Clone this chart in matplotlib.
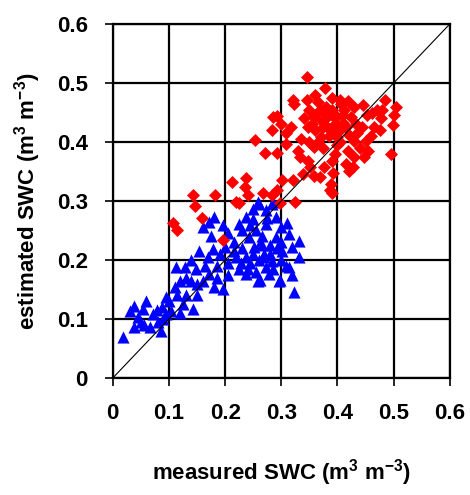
import matplotlib
matplotlib.use("Agg")
import matplotlib.pyplot as plt

# measured vs estimated soil water content
red_x = [0.345, 0.378, 0.320, 0.345, 0.365, 0.390, 0.404, 0.446, 0.484, 0.505,
         0.499, 0.496, 0.470, 0.501, 0.462, 0.477, 0.286, 0.283, 0.253, 0.271,
         0.292, 0.309, 0.323, 0.350, 0.364, 0.293, 0.317, 0.308, 0.329, 0.347,
         0.358, 0.376, 0.394, 0.406, 0.418, 0.382, 0.400, 0.370, 0.358, 0.347,
         0.338, 0.358, 0.376, 0.391, 0.388, 0.391, 0.415, 0.421, 0.430, 0.447,
         0.450, 0.444, 0.430, 0.418, 0.415, 0.424, 0.433, 0.465, 0.453, 0.440,
         0.455, 0.428, 0.392, 0.386, 0.369, 0.351, 0.333, 0.321, 0.301, 0.292,
         0.283, 0.212, 0.238, 0.235, 0.220, 0.182, 0.143, 0.146, 0.158, 0.108,
         0.114, 0.324, 0.298, 0.197, 0.268, 0.240, 0.225, 0.380, 0.395, 0.410,
         0.372, 0.360, 0.385, 0.400, 0.375, 0.405, 0.390, 0.335, 0.300, 0.430,
         0.460, 0.475, 0.360, 0.380, 0.395, 0.410, 0.370, 0.390, 0.405, 0.375,
         0.420, 0.385, 0.365, 0.395, 0.412, 0.340, 0.355, 0.480, 0.350, 0.435]
red_y = [0.511, 0.491, 0.471, 0.471, 0.468, 0.475, 0.471, 0.463, 0.471, 0.460,
         0.429, 0.380, 0.455, 0.445, 0.450, 0.440, 0.443, 0.420, 0.403, 0.381,
         0.381, 0.415, 0.464, 0.455, 0.450, 0.444, 0.425, 0.396, 0.385, 0.425,
         0.442, 0.453, 0.447, 0.464, 0.470, 0.425, 0.408, 0.408, 0.391, 0.368,
         0.345, 0.342, 0.357, 0.368, 0.328, 0.314, 0.362, 0.351, 0.374, 0.374,
         0.402, 0.425, 0.402, 0.385, 0.425, 0.442, 0.430, 0.425, 0.445, 0.390,
         0.385, 0.358, 0.347, 0.319, 0.341, 0.358, 0.375, 0.336, 0.336, 0.319,
         0.310, 0.333, 0.339, 0.324, 0.299, 0.310, 0.310, 0.291, 0.271, 0.262,
         0.251, 0.299, 0.296, 0.234, 0.313, 0.311, 0.297, 0.440, 0.430, 0.445,
         0.435, 0.420, 0.410, 0.395, 0.390, 0.420, 0.455, 0.405, 0.430, 0.460,
         0.410, 0.420, 0.480, 0.460, 0.440, 0.432, 0.455, 0.418, 0.400, 0.425,
         0.412, 0.448, 0.400, 0.380, 0.455, 0.440, 0.430, 0.455, 0.400, 0.415]

blue_x = [0.019, 0.037, 0.031, 0.037, 0.054, 0.066, 0.072, 0.087, 0.095, 0.104,
          0.125, 0.143, 0.095, 0.110, 0.119, 0.113, 0.128, 0.148, 0.140, 0.160,
          0.181, 0.196, 0.172, 0.154, 0.178, 0.190, 0.160, 0.172, 0.181, 0.196,
          0.199, 0.225, 0.237, 0.249, 0.260, 0.272, 0.284, 0.290, 0.299, 0.313,
          0.331, 0.319, 0.331, 0.313, 0.319, 0.322, 0.296, 0.284, 0.269, 0.252,
          0.237, 0.225, 0.219, 0.237, 0.258, 0.272, 0.278, 0.255, 0.272, 0.243,
          0.290, 0.302, 0.259, 0.286, 0.262, 0.298, 0.050, 0.080, 0.060, 0.085,
          0.120, 0.130, 0.150, 0.100, 0.045, 0.165, 0.185, 0.205, 0.140, 0.175,
          0.205, 0.215, 0.230, 0.265, 0.245, 0.260, 0.280, 0.300, 0.310, 0.275,
          0.250, 0.230, 0.262, 0.055, 0.240, 0.255, 0.270, 0.285, 0.300, 0.250,
          0.265, 0.280, 0.228, 0.245, 0.292, 0.308, 0.170, 0.150, 0.130, 0.115,
          0.078, 0.090, 0.205, 0.215, 0.185]
blue_y = [0.069, 0.086, 0.114, 0.122, 0.117, 0.086, 0.108, 0.120, 0.137, 0.114,
          0.125, 0.117, 0.108, 0.154, 0.165, 0.188, 0.188, 0.185, 0.165, 0.165,
          0.154, 0.151, 0.177, 0.216, 0.219, 0.210, 0.256, 0.264, 0.273, 0.259,
          0.222, 0.261, 0.273, 0.287, 0.295, 0.284, 0.295, 0.273, 0.256, 0.244,
          0.233, 0.222, 0.205, 0.188, 0.174, 0.145, 0.165, 0.199, 0.210, 0.222,
          0.205, 0.185, 0.205, 0.176, 0.165, 0.188, 0.176, 0.250, 0.261, 0.239,
          0.239, 0.216, 0.299, 0.299, 0.166, 0.166, 0.095, 0.095, 0.130, 0.080,
          0.110, 0.140, 0.140, 0.130, 0.104, 0.190, 0.190, 0.175, 0.200, 0.240,
          0.245, 0.230, 0.250, 0.240, 0.195, 0.200, 0.225, 0.200, 0.262, 0.272,
          0.270, 0.220, 0.228, 0.090, 0.185, 0.180, 0.205, 0.185, 0.230, 0.210,
          0.225, 0.210, 0.195, 0.260, 0.220, 0.190, 0.205, 0.160, 0.170, 0.140,
          0.115, 0.100, 0.195, 0.215, 0.170]

ticks = [0, 0.1, 0.2, 0.3, 0.4, 0.5, 0.6]
tick_labels = ["0", "0.1", "0.2", "0.3", "0.4", "0.5", "0.6"]

plt.rcParams["font.family"] = ["Liberation Sans", "DejaVu Sans"]
plt.rcParams["font.weight"] = "bold"
plt.rcParams["mathtext.default"] = "regular"

fig = plt.figure(figsize=(4.7, 4.95), dpi=100)
ax = fig.add_axes([0.240, 0.2364, 0.717, 0.7151])

ax.scatter(blue_x, blue_y, marker="^", s=76, color="#0000ff", linewidths=0, zorder=3)
ax.scatter(red_x, red_y, marker="D", s=44, color="#ff0000", linewidths=0, zorder=4)
ax.plot([0, 0.6], [0, 0.6], color="black", lw=0.8, zorder=5)

ax.set_xlim(0, 0.6)
ax.set_ylim(0, 0.6)
ax.set_xticks(ticks)
ax.set_yticks(ticks)
ax.set_xticklabels(tick_labels)
ax.set_yticklabels(tick_labels)
ax.tick_params(direction="out", length=6, width=1.2, labelsize=16, pad=12)
ax.grid(True, color="black", lw=1.6, zorder=1)
ax.set_axisbelow(True)
for s in ax.spines.values():
    s.set_linewidth(1.6)

ax.set_xlabel("measured SWC (m$^3$ m$^{-3}$)", fontsize=16, fontweight="bold", labelpad=24)
ax.set_ylabel("estimated SWC (m$^3$ m$^{-3}$)", fontsize=16, fontweight="bold", labelpad=10)

fig.savefig("out.png", dpi=100)
